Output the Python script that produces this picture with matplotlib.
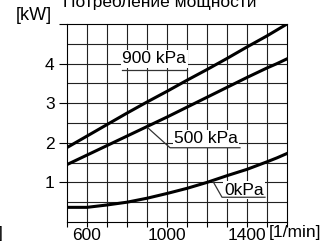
import matplotlib.pyplot as plt
import numpy as np

plt.rcParams['font.family'] = ['Liberation Sans', 'DejaVu Sans']

rpm = [500, 600, 700, 800, 900, 1000, 1100, 1200, 1300, 1400, 1500, 1550, 1600]
p900 = [1.88, 2.17, 2.46, 2.75, 3.03, 3.30, 3.58, 3.85, 4.13, 4.42, 4.70, 4.85, 5.00]
p500 = [1.45, 1.69, 1.93, 2.17, 2.41, 2.65, 2.90, 3.15, 3.40, 3.65, 3.89, 4.00, 4.12]
p0 = [0.37, 0.37, 0.43, 0.50, 0.60, 0.72, 0.85, 1.00, 1.17, 1.33, 1.52, 1.62, 1.73]

xticks = [600, 1000, 1400]
yticks = [1, 2, 3, 4]

fig = plt.figure(figsize=(3.31, 2.45), dpi=100)
ax = fig.add_axes([67 / 331, 23 / 245, 220 / 331, 198 / 245])

ax.set_xlim(500, 1600)
ax.set_ylim(0, 5)

# grid
for x in np.arange(600, 1600, 100):
    ax.axvline(x, color='#222222', lw=0.8, zorder=1)
for y in np.arange(0.5, 5, 0.5):
    ax.axhline(y, color='#222222', lw=0.8, zorder=1)

for ys in (p900, p500, p0):
    ax.plot(rpm, ys, color='black', lw=2.2, zorder=3, clip_on=True)

ax.set_xticks(np.arange(500, 1601, 100), minor=True)
ax.set_xticks(xticks)
ax.set_xticklabels([str(t) for t in xticks], fontsize=12.5)
ax.set_yticks(yticks + [5])
ax.set_yticklabels([str(t) for t in yticks] + [''], fontsize=12.5)
ax.tick_params(axis='x', which='both', direction='out', length=3.5, width=0.8, pad=1)
ax.tick_params(axis='y', direction='out', length=6, width=0.8, pad=3)
for s in ax.spines.values():
    s.set_linewidth(0.8)

box = dict(facecolor='white', edgecolor='none', pad=1)

# labels
ax.text(937, 4.12, '900 kPa', fontsize=12.5, ha='center', va='center', bbox=box, zorder=4)
ax.plot([775, 1100], [3.85, 3.85], color='#333333', lw=0.9, zorder=4)

ax.text(1195, 2.1, '500 kPa', fontsize=12.5, ha='center', va='center', bbox=box, zorder=4)
ax.plot([905, 1015, 1365], [2.375, 1.875, 1.875], color='#333333', lw=0.9, zorder=4)

ax.text(1385, 0.8, '0kPa', fontsize=12.5, ha='center', va='center', bbox=box, zorder=4)
ax.plot([1230, 1275, 1490], [1.025, 0.625, 0.625], color='#333333', lw=0.9, zorder=4)

fig.text(160 / 331, 1 - 7 / 245, 'Потребление мощности', fontsize=12.5, ha='center', va='baseline')
fig.text(16 / 331, 1 - 16 / 245, '[kW]', fontsize=13, ha='left', va='center')
fig.text(269 / 331, 1 - 232 / 245, '[1/min]', fontsize=12.5, ha='left', va='center')
fig.text(-2 / 331, 1 - 233 / 245, ']', fontsize=12.5, ha='left', va='center')

fig.savefig('out.png', dpi=100)
